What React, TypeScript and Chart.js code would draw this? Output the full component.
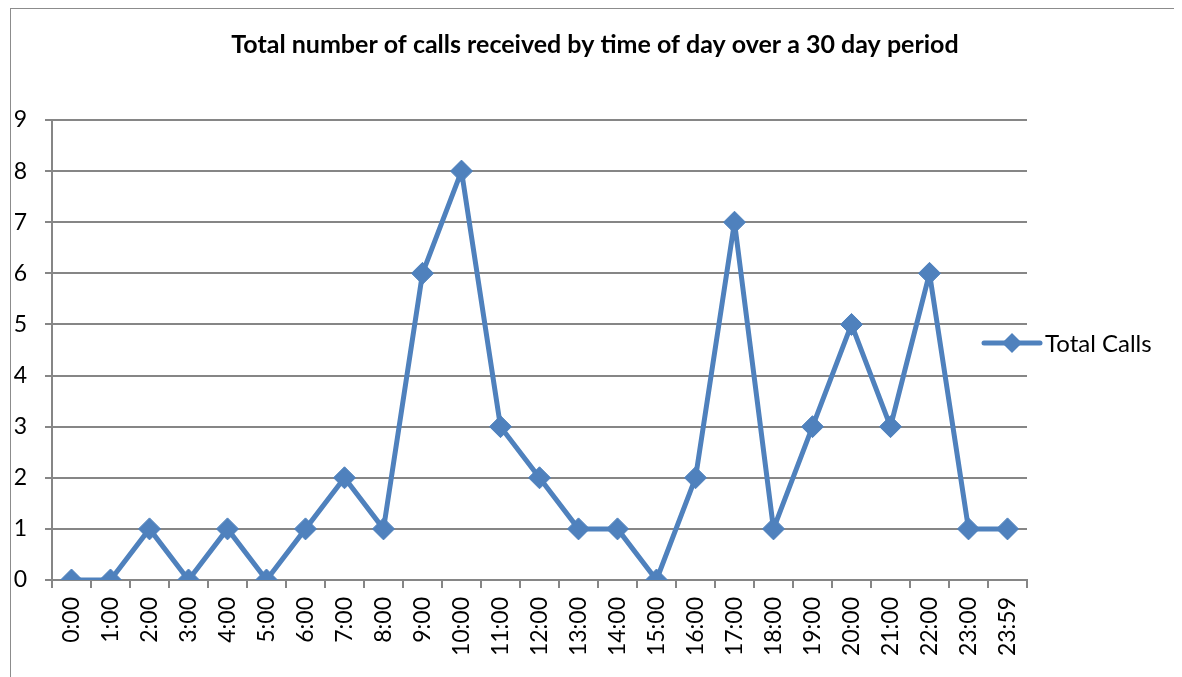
import React, { useEffect, useRef } from "react";
import { Chart, registerables } from "chart.js";

Chart.register(...registerables);

const TITLE = "Total number of calls received by time of day over a 30 day period";
const SERIES_LABEL = "Total Calls";
const categories = [
  "0:00", "1:00", "2:00", "3:00", "4:00", "5:00", "6:00", "7:00", "8:00", "9:00",
  "10:00", "11:00", "12:00", "13:00", "14:00", "15:00", "16:00", "17:00", "18:00",
  "19:00", "20:00", "21:00", "22:00", "23:00", "23:59",
];
const totalCalls = [0, 0, 1, 0, 1, 0, 1, 2, 1, 6, 8, 3, 2, 1, 1, 0, 2, 7, 1, 3, 5, 3, 6, 1, 1];
const yTicks = [0, 1, 2, 3, 4, 5, 6, 7, 8, 9];

const BLUE = "#4F81BD";
const GRID = "#868686";
const FONT = "Lato, 'Open Sans', sans-serif";

const overlay = {
  id: "overlay",
  afterDraw(chart: any) {
    const ctx = chart.ctx as CanvasRenderingContext2D;
    const a = chart.chartArea;
    ctx.save();
    ctx.fillStyle = "#000";
    ctx.font = `bold 25px ${FONT}`;
    ctx.textAlign = "center";
    ctx.textBaseline = "middle";
    ctx.fillText(TITLE, chart.width / 2, 36);

    // legend
    const ly = (a.top + a.bottom) / 2 - 7;
    const x0 = a.right - 43;
    const x1 = a.right + 13;
    ctx.strokeStyle = BLUE;
    ctx.lineWidth = 5;
    ctx.lineCap = "round";
    ctx.beginPath();
    ctx.moveTo(x0, ly);
    ctx.lineTo(x1, ly);
    ctx.stroke();
    const cx = (x0 + x1) / 2;
    const r = 10;
    ctx.fillStyle = BLUE;
    ctx.beginPath();
    ctx.moveTo(cx, ly - r);
    ctx.lineTo(cx + r, ly);
    ctx.lineTo(cx, ly + r);
    ctx.lineTo(cx - r, ly);
    ctx.closePath();
    ctx.fill();
    ctx.fillStyle = "#000";
    ctx.font = `24px ${FONT}`;
    ctx.textAlign = "left";
    ctx.fillText(SERIES_LABEL, x1 + 5, ly + 1);
    ctx.restore();
  },
};

export default function App() {
  const ref = useRef<HTMLCanvasElement | null>(null);
  useEffect(() => {
    if (!ref.current) return;
    const chart = new Chart(ref.current, {
      type: "line",
      data: {
        labels: categories,
        datasets: [
          {
            label: SERIES_LABEL,
            data: totalCalls,
            borderColor: BLUE,
            backgroundColor: BLUE,
            borderWidth: 5,
            borderJoinStyle: "round",
            pointStyle: "rectRot",
            pointRadius: 11,
            pointBorderWidth: 1,
            pointBackgroundColor: BLUE,
            pointBorderColor: BLUE,
            tension: 0,
          },
        ],
      },
      options: {
        responsive: false,
        animation: false,
        layout: { padding: { left: 0, top: 111, right: 152, bottom: 0 } },
        plugins: {
          legend: { display: false },
          title: { display: false },
          tooltip: { enabled: false },
        },
        scales: {
          x: {
            type: "category",
            offset: true,
            afterFit: (s: any) => {
              s.height = 97;
            },
            grid: {
              offset: true,
              drawOnChartArea: false,
              drawTicks: true,
              tickLength: 8,
              color: GRID,
              lineWidth: 2,
            },
            border: { display: true, color: GRID, width: 2 },
            ticks: {
              autoSkip: false,
              minRotation: 90,
              maxRotation: 90,
              padding: 9,
              color: "#000",
              font: { family: FONT, size: 23 },
            },
          },
          y: {
            min: 0,
            max: 9,
            afterFit: (s: any) => {
              s.width = 41;
            },
            afterBuildTicks: (s: any) => {
              s.ticks = yTicks.map((v) => ({ value: v }));
            },
            grid: {
              drawTicks: true,
              tickLength: 7,
              color: GRID,
              lineWidth: 2,
            },
            border: { display: true, color: GRID, width: 2 },
            ticks: {
              padding: 18,
              color: "#000",
              font: { family: FONT, size: 23 },
            },
          },
        },
      },
      plugins: [overlay],
    });
    return () => chart.destroy();
  }, []);

  return (
    <div
      style={{
        marginLeft: 2,
        width: 1168,
        height: 700,
        border: "1px solid #8c8c8c",
        background: "#fff",
      }}
    >
      <canvas ref={ref} width={1168} height={668} style={{ display: "block" }} />
    </div>
  );
}
